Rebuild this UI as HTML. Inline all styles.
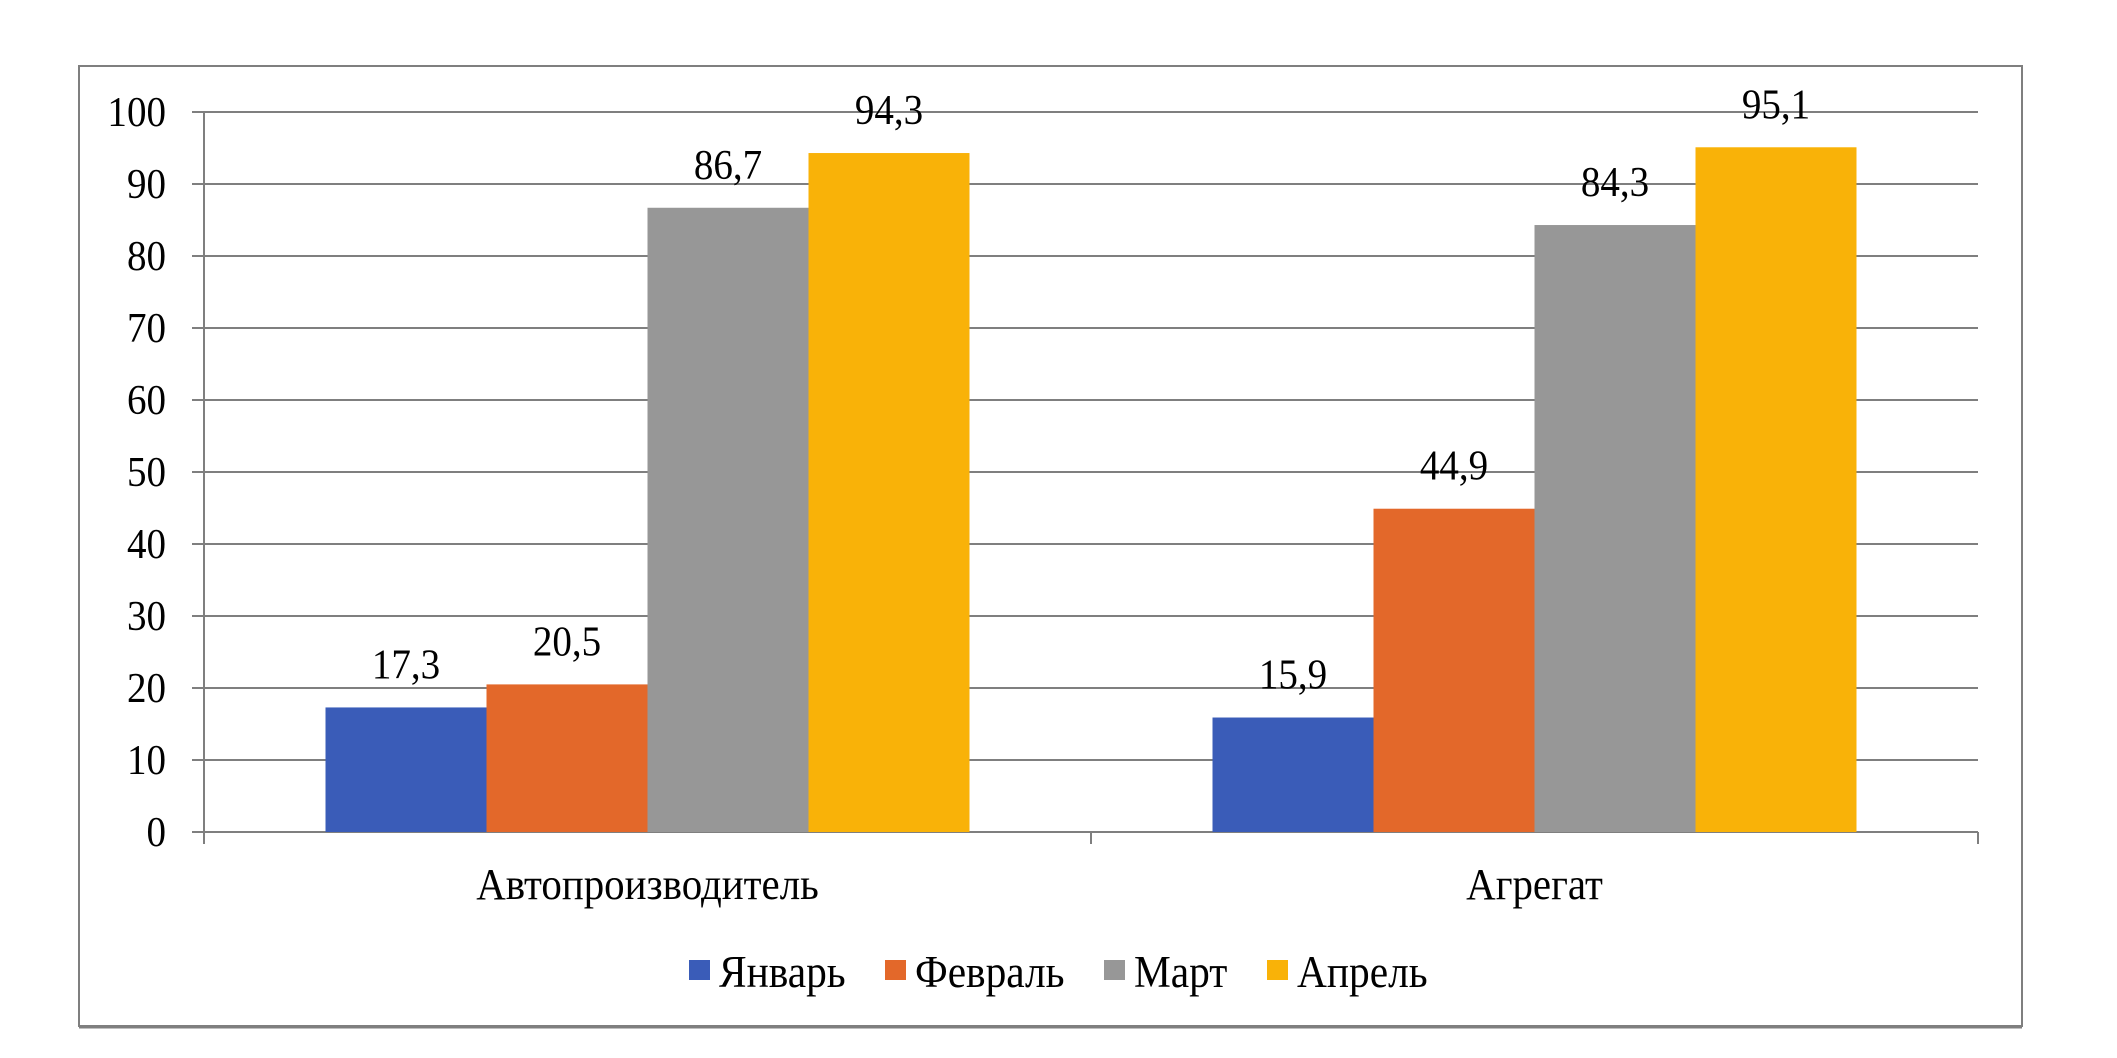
<!DOCTYPE html>
<html><head><meta charset="utf-8"><style>
html,body{margin:0;padding:0;background:#fff;}
svg{display:block;}
text{font-family:"Liberation Serif","Noto Serif CJK SC",serif;fill:#000;}
</style></head><body>
<svg id="chart" width="2117" height="1058" viewBox="0 0 2117 1058" xmlns="http://www.w3.org/2000/svg">
<rect x="79" y="66" width="1943" height="960" fill="#fff" stroke="#7f7f7f" stroke-width="2"/>
<line x1="79" y1="1027" x2="2022" y2="1027" stroke="#7f7f7f" stroke-width="3"/>
<g id="grid"></g><g id="bars"></g><g id="labels"></g><g id="legend"></g>
</svg>
<script>
const categories = ["Автопроизводитель", "Агрегат"];
const seriesNames = ["Январь", "Февраль", "Март", "Апрель"];
const janValues = [17.3, 15.9];
const febValues = [20.5, 44.9];
const marValues = [86.7, 84.3];
const aprValues = [94.3, 95.1];
const valueLabels = [["17,3","15,9"],["20,5","44,9"],["86,7","84,3"],["94,3","95,1"]];
const yTicks = [0,10,20,30,40,50,60,70,80,90,100];

const series = [janValues, febValues, marValues, aprValues];
const colors = ["#3a5cb8", "#e3682a", "#979797", "#f9b208"];
const NS = "http://www.w3.org/2000/svg";
const X0 = 204, X1 = 1978, Y0 = 832, Y1 = 112;
const yMin = 0, yMax = 100;
const y = v => Y0 - (v - yMin) / (yMax - yMin) * (Y0 - Y1);
const catW = (X1 - X0) / categories.length;
const barW = 161;
const x = (ci, si) => X0 + catW * ci + catW / 2 - barW * series.length / 2 + si * barW;
function mk(tag, attrs, parent, txt) {
  const e = document.createElementNS(NS, tag);
  for (const k in attrs) e.setAttribute(k, attrs[k]);
  if (txt !== undefined) e.textContent = txt;
  parent.appendChild(e);
  return e;
}
const grid = document.getElementById('grid');
const bars = document.getElementById('bars');
const labels = document.getElementById('labels');
const legend = document.getElementById('legend');
const SX = 0.93;
yTicks.forEach(t => {
  const yy = y(t);
  const l = mk('line', {x1: X0 - 12, x2: X1, y1: yy, y2: yy, stroke: '#7f7f7f', 'stroke-width': 2}, grid);
  
  
  const tx = mk('text', {transform: `translate(166,${yy + 14}) scale(${SX},1)`, 'text-anchor': 'end', 'font-size': 42}, labels, String(t));
  
  
});
const ax = mk('line', {x1: X0, x2: X0, y1: Y1, y2: Y0, stroke: '#7f7f7f', 'stroke-width': 2}, grid);


for (let i = 0; i <= categories.length; i++) {
  const xx = X0 + catW * i;
  const tk = mk('line', {x1: xx, x2: xx, y1: Y0, y2: Y0 + 12, stroke: '#7f7f7f', 'stroke-width': 2}, grid);
  
  
}
categories.forEach((c, ci) => {
  series.forEach((s, si) => {
    const v = s[ci];
    const r = mk('rect', {x: x(ci, si), y: y(v), width: barW, height: y(0) - y(v), fill: colors[si]}, bars);
    
    
    const t = mk('text', {transform: `translate(${x(ci, si) + barW / 2},${y(v) - 29}) scale(${SX},1)`, 'text-anchor': 'middle', 'font-size': 42}, labels, valueLabels[si][ci]);
    
    
  });
  const cl = mk('text', {transform: `translate(${X0 + catW * ci + catW / 2},899) scale(0.93,1)`, 'text-anchor': 'middle', 'font-size': 44}, labels, c);
  
  
});
const legX = [689, 885, 1104, 1267];
seriesNames.forEach((n, i) => {
  const g = mk('g', {}, legend);
  
  
  mk('rect', {x: legX[i], y: 960, width: 21, height: 20, fill: colors[i]}, g);
  mk('text', {transform: `translate(${legX[i] + 30},987) scale(0.92,1)`, 'font-size': 45}, g, n);
});
</script>
</body></html>
